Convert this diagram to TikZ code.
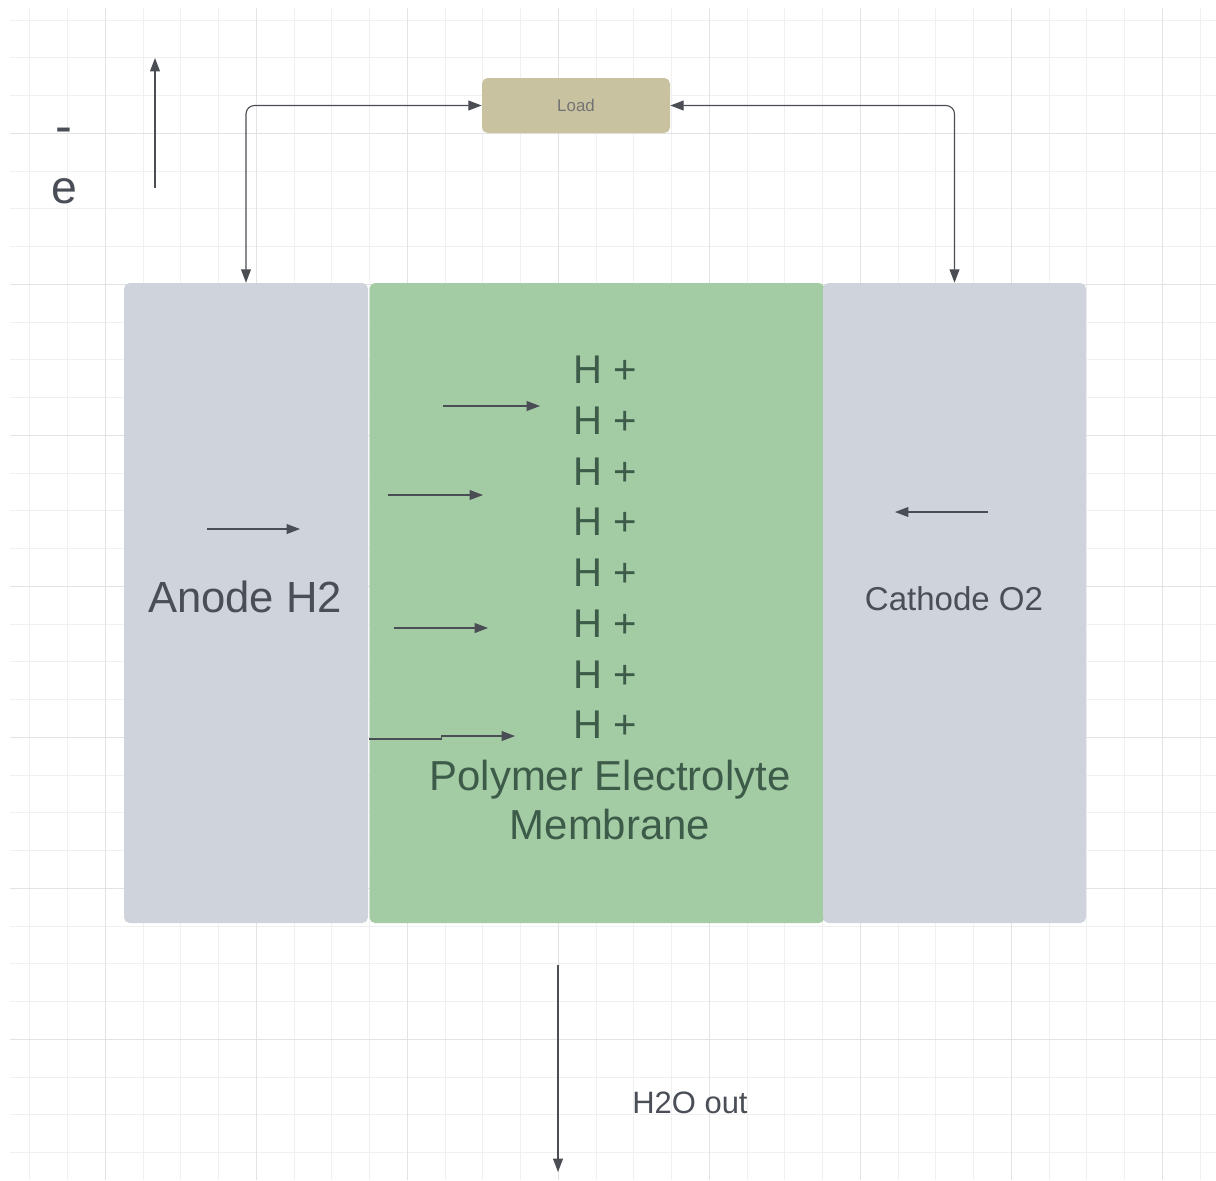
\documentclass[tikz,border=0pt]{standalone}
\usepackage{fontspec}
\setmainfont{Liberation Sans}
\usetikzlibrary{arrows.meta}
\definecolor{cellgray}{HTML}{CED3DC}
\definecolor{pemgreen}{HTML}{A3CBA4}
\definecolor{loadtan}{HTML}{C9C2A0}
\definecolor{inkgray}{HTML}{4A4E56}
\definecolor{inkgreen}{HTML}{3D5B49}
\definecolor{wiregray}{HTML}{4A4D54}
\begin{document}
\begin{tikzpicture}[x=0.025cm, y=-0.025cm, >={Triangle[length=9.5pt,width=7pt]},
    gridminor/.style={draw=black!6, line width=0.6pt},
    gridmajor/.style={draw=black!11, line width=0.7pt},
    cellbox/.style={fill=#1, rounded corners=4pt, inner sep=0pt},
    wire/.style={<->, draw=wiregray, line width=0.8pt, rounded corners=6pt},
    flow/.style={->, draw=wiregray, line width=0.8pt},
    hplus/.style={text=inkgreen, font=\fontsize{28.5}{30}\selectfont}]
    \useasboundingbox[fill=white] (0,0) rectangle (1216,1180);
    % background grid, every fourth line a bit darker
    \begin{scope}
      \clip (10,8) rectangle (1216,1180);
      \foreach \k in {-2,...,29}
        \draw[gridminor] ({105.3+37.75*\k},8) -- ++(0,1172);
      \foreach \k in {-3,...,27}
        \draw[gridminor] (10,{133.3+37.75*\k}) -- ++(1206,0);
      \foreach \k in {0,...,7}
        \draw[gridmajor] ({105.3+151*\k},8) -- ++(0,1172);
      \foreach \k in {-1,...,6}
        \draw[gridmajor] (10,{133.3+151*\k}) -- ++(1206,0);
    \end{scope}

    % the cell: membrane behind, electrodes on top
    \node[cellbox=pemgreen, minimum width=455*0.025cm, minimum height=640*0.025cm] (pem) at (597,603) {};
    \node[cellbox=cellgray, minimum width=244*0.025cm, minimum height=640*0.025cm] (anode) at (246,603) {};
    \node[cellbox=cellgray, minimum width=263*0.025cm, minimum height=640*0.025cm] (cathode) at (954.5,603) {};

    \node[anchor=base, text=inkgray, font=\fontsize{31}{33}\selectfont] (anodetxt) at (245,612.7) {Anode H2};
    \node[anchor=base, text=inkgray, font=\fontsize{23.5}{25}\selectfont] (cathodetxt) at (954,610.7) {Cathode O2};
    \node[align=center, text=inkgreen, font=\fontsize{29.8}{35.4}\selectfont, inner sep=0pt] (pemtxt) at (610,800) {Polymer Electrolyte\\Membrane};

    % protons crossing the membrane
    \foreach \i in {0,...,7}
      \node[hplus] (hp\i) at (605,{370+50.7*\i}) {H +};

    % external circuit
    \node[fill=loadtan, rounded corners=4pt, minimum width=188*0.025cm, minimum height=55*0.025cm,
          text=black!55, font=\fontsize{12}{14}\selectfont] (load) at (576,105.5) {Load};
    \draw[wire] (load.west) -| (anode.north);
    \draw[wire] (load.east) -| (cathode.north);

    % electron direction
    \node[text=inkgray, font=\fontsize{36}{38}\selectfont, anchor=base] (eminus) at (64,143) {-};
    \node[text=inkgray, font=\fontsize{33}{35}\selectfont, anchor=base] (electron) at (64,203) {e};
    \coordinate (etail) at (155,188);
    \coordinate (ehead) at (155,58);
    \draw[flow] (etail) -- (ehead);

    % gas and proton flow
    \draw[flow] (207,529) -- (300,529);
    \draw[flow] (443,406) -- (540,406);
    \draw[flow] (388,495) -- (483,495);
    \draw[flow] (394,628) -- (488,628);
    \draw[flow] (pem.west |- 0,739) -- (441.5,739) -- (441.5,736) -- (515,736);
    \draw[flow] (988,512) -- (895,512);

    % water out
    \coordinate (wtop) at (558,965);
    \coordinate (wend) at (558,1172);
    \draw[flow] (wtop) -- (wend);
    \node[anchor=base, text=inkgray, font=\fontsize{22}{24}\selectfont] (water) at (690,1113) {H2O out};
  \end{tikzpicture}
\end{document}
